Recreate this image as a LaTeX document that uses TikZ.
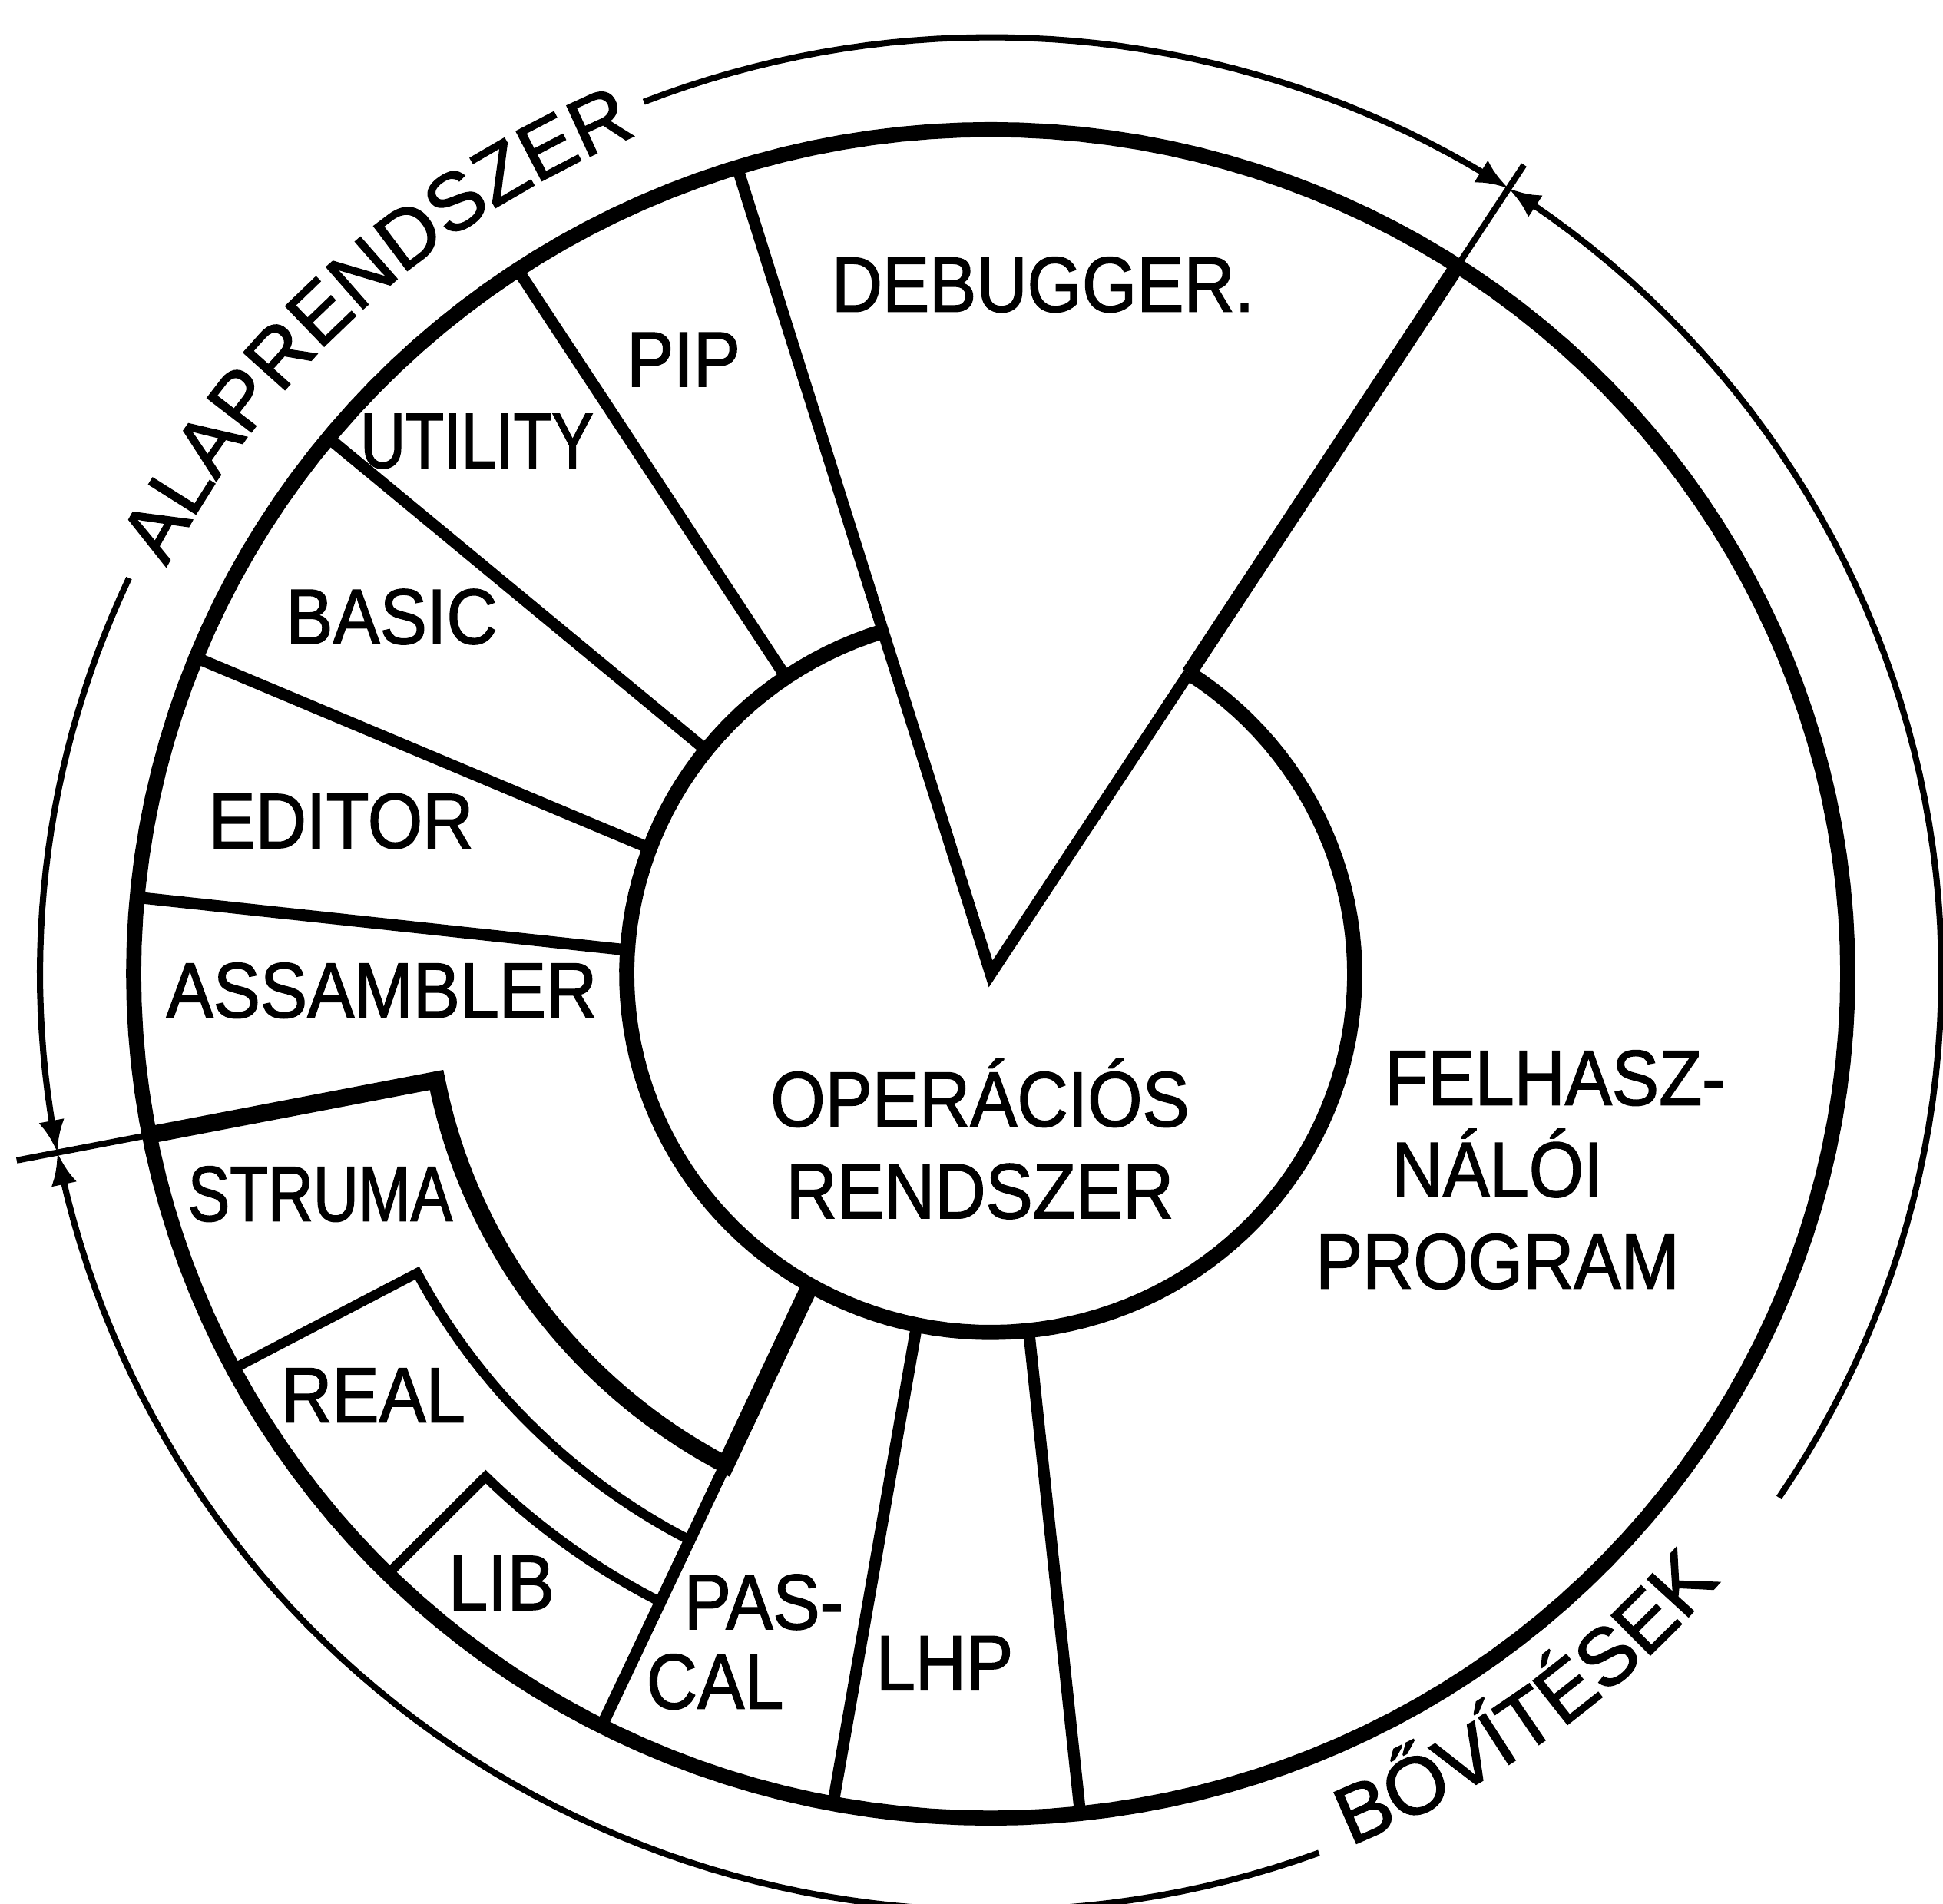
\documentclass[tikz,border=0pt]{standalone}
\usepackage{fontspec}
\setmainfont{Liberation Sans}[FakeStretch=0.9,FakeBold=1.5]
\newfontfamily\arcfont{Liberation Sans}[FakeBold=1.5]
\newfontfamily\tightfont{Liberation Sans}[FakeStretch=0.8,FakeBold=1.5]
\usepackage{tikz}
\usetikzlibrary{arrows.meta,decorations.text}

\newcommand\arcsize{\arcfont\fontsize{30}{36}\selectfont}
\tikzset{
  rim/.style={line width=5.6pt},
  spoke/.style={line width=4.3pt},
  heavy/.style={line width=6.4pt},
  light/.style={line width=3.6pt},
  hair/.style={line width=2.3pt},
  dim/.style={hair,-{Latex[length=0.42cm,width=0.34cm]}},
  lbl/.style={font=\fontsize{29}{34}\selectfont,inner sep=0pt},
  tight/.style={font=\tightfont\fontsize{29}{34}\selectfont,inner sep=0pt}
}

\begin{document}
\begin{tikzpicture}[x=1cm,y=0.985cm]
  \useasboundingbox (-12.90,-12.294) rectangle (12.40,12.873); % page = scan size
  \coordinate (C) at (0,0); % common centre, tip of the DEBUGGER wedge

  \draw[rim,domain=0:360,samples=181,variable=\a] plot (\a:11.16) -- cycle; % outer ring
  \draw[rim,domain=107.2:417,samples=130,variable=\a] plot (\a:4.74); % operating system core, open at the top

  % DEBUGGER wedge reaching down to the centre
  \draw[spoke] (107.2:11.16) -- (C) -- (57:4.74);
  \draw[rim] (57:4.74) -- (57:11.16); % right edge of the wedge, heavier outside the core
  \draw[hair] (57:11.16) -- (57:12.75); % tick: end of ALAPRENDSZER / start of BOVITESEK

  % radial dividers of the base system
  \draw[spoke] (124.2:4.74) -- (123.5:11.16); % PIP | UTILITY
  \draw[spoke] (141.4:4.74) -- (140.6:11.16); % UTILITY | BASIC
  \draw[spoke] (159.5:4.74) -- (158.0:11.16); % BASIC | EDITOR
  \draw[spoke] (176.2:4.74) -- (174.8:11.16); % EDITOR | ASSAMBLER

  % extensions in the lower left: PASCAL edge and the nested L-shapes
  \coordinate (pasIn) at (240.3:4.74);
  \coordinate (pasOut) at (243:11.16);
  \draw[spoke] (pasIn) -- (pasOut); % PASCAL left edge
  \draw[heavy] (191:11.16) -- plot[domain=191:242.0,samples=40,variable=\a] (\a:7.35) -- (pasIn); % STRUMA
  \draw[light] (207.9:11.16) -- plot[domain=207.9:242.4,samples=30,variable=\a] (\a:8.45); % REAL
  \draw[light] (225.3:11.16) -- plot[domain=225.3:242.6,samples=20,variable=\a] (\a:9.35); % LIB
  \draw[hair] (191:11.16) -- (191:12.92); % tick at the left side

  \draw[spoke] (258.3:4.74) -- (259.4:11.16); % PASCAL | LHP
  \draw[spoke] (276:4.74) -- (276:11.16); % LHP | user program

  % dimension arcs with arrows against the two ticks
  \draw[dim,domain=155:191,samples=30,variable=\a] plot (\a:12.38);
  \draw[dim,domain=0:54.4,samples=40,variable=\a] plot ({111.4-\a}:12.38);
  \draw[dim,domain=326:417,samples=60,variable=\a] plot (\a:12.38);
  \draw[dim,domain=0:99.2,samples=70,variable=\a] plot ({290.2-\a}:12.38);

  % lettering set along the dimension arcs
  \path[decorate,decoration={text along path,text align=center,text={|\arcsize|ALAPRENDSZER}}]
    plot[domain=0:54,samples=40,variable=\a] ({160-\a}:12.0);
  \path[decorate,decoration={text along path,text align=center,text={|\arcsize|BŐVÍTÉSEK}}]
    plot[domain=280:332,samples=40,variable=\a] (\a:12.44);

  % sector labels
  \node[lbl] (debugger) at (0.68,9.11) {DEBUGGER.};
  \node[lbl] (pip) at (-4.00,8.12) {PIP};
  \node[tight] (utility) at (-6.69,7.04) {UTILITY};
  \node[lbl] (basic) at (-7.80,4.72) {BASIC};
  \node[lbl] (editor) at (-8.46,2.02) {EDITOR};
  \node[lbl] (assambler) at (-7.93,-0.22) {ASSAMBLER};
  \node[tight] (struma) at (-8.73,-2.91) {STRUMA};
  \node[lbl] (real) at (-8.04,-5.57) {REAL};
  \node[lbl] (lib) at (-6.37,-8.05) {LIB};
  \node[lbl,align=left,font=\fontsize{29}{29.5}\selectfont] (pascal) at (-3.20,-8.83) {\hspace*{0.49cm}PAS-\\CAL};
  \node[lbl] (lhp) at (-0.60,-9.11) {LHP};
  \node[lbl,align=center] (os) at (-0.14,-2.18) {OPERÁCIÓS\\RENDSZER};
  \node[lbl,align=center] (user) at (6.60,-2.59) {\hspace*{1.5cm}FELHASZ-\\NÁLÓI\\PROGRAM};
\end{tikzpicture}
\end{document}
